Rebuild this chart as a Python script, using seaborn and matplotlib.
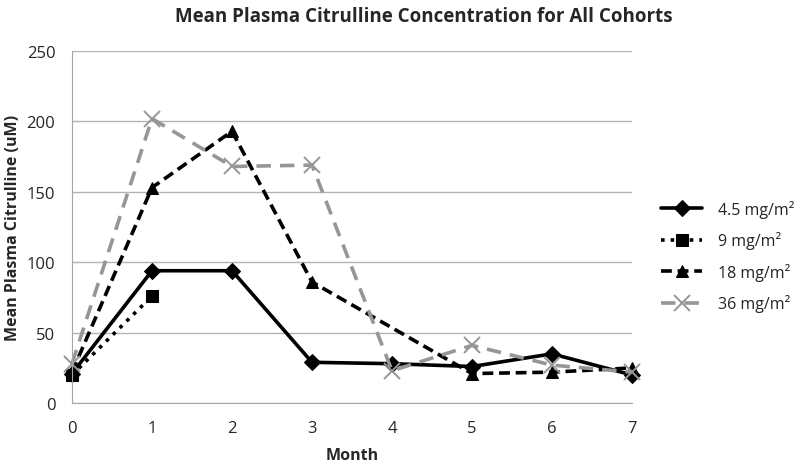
import numpy as np
import pandas as pd
import matplotlib
matplotlib.use("Agg")
import matplotlib.pyplot as plt
import seaborn as sns

# Data
months = [0, 1, 2, 3, 4, 5, 6, 7]
dose_labels = ["4.5 mg/m²", "9 mg/m²", "18 mg/m²", "36 mg/m²"]
cit_45 = [21, 94, 94, 29, 28, 26, 35, 20]
cit_9 = [20, 76, None, None, None, None, None, None]
cit_18 = [22, 153, 193, 86, None, 21, 22, 25]
cit_36 = [28, 202, 168, 169, 23, 41, 27, 22]

rows = []
for lab, vals in zip(dose_labels, [cit_45, cit_9, cit_18, cit_36]):
    for m, v in zip(months, vals):
        if v is not None:
            rows.append({"Month": m, "Citrulline": v, "Dose": lab})
df = pd.DataFrame(rows)

sns.set_style("white")
plt.rcParams['font.family'] = ['Open Sans', 'DejaVu Sans']

fig = plt.figure(figsize=(8, 4.64), dpi=100)
ax = fig.add_axes([0.09, 0.129, 0.70, 0.759])

grey = "#969696"
styles = {
    "4.5 mg/m²": dict(color="black", linestyle="-", marker="D", markersize=8, lw=2.6,
                      mec="black", mfc="black"),
    "9 mg/m²": dict(color="black", linestyle=":", marker="s", markersize=9, lw=2.6,
                    mec="black", mfc="black"),
    "18 mg/m²": dict(color="black", linestyle=(0, (3, 1.6)), marker="^", markersize=9, lw=2.6,
                     mec="black", mfc="black"),
    "36 mg/m²": dict(color=grey, linestyle=(0, (4, 2.5)), marker="x", markersize=11,
                     lw=2.6, markeredgewidth=1.4, mec=grey),
}

for lab in dose_labels:
    sub = df[df["Dose"] == lab]
    sns.lineplot(data=sub, x="Month", y="Citrulline", ax=ax, label=lab,
                 sort=False, clip_on=False, **styles[lab])

ax.set_xlim(0, 7)
ax.set_ylim(0, 250)
ax.set_xticks(months)
ax.set_yticks(range(0, 251, 50))
ax.yaxis.grid(True, color="#b3b3b3", lw=1)
ax.xaxis.grid(False)
for s in ["top", "right"]:
    ax.spines[s].set_visible(False)
for s in ["left", "bottom"]:
    ax.spines[s].set_color("#a6a6a6")
ax.tick_params(axis="both", length=5, color="#a6a6a6", labelsize=12, pad=7)
ax.set_axisbelow(True)

ax.set_xlabel("Month", fontsize=11.5, fontweight="bold", labelpad=8)
ax.set_ylabel("Mean Plasma Citrulline (uM)", fontsize=11.5, fontweight="bold", labelpad=4)
fig.suptitle("Mean Plasma Citrulline Concentration for All Cohorts",
             fontsize=13.5, fontweight="bold", x=0.53, y=0.985)

ax.legend(loc="center left", bbox_to_anchor=(1.04, 0.418), borderaxespad=0, frameon=False,
          fontsize=11.5, handlelength=2.6, labelspacing=0.85, handletextpad=1.0)

fig.savefig("out.png", dpi=100)
